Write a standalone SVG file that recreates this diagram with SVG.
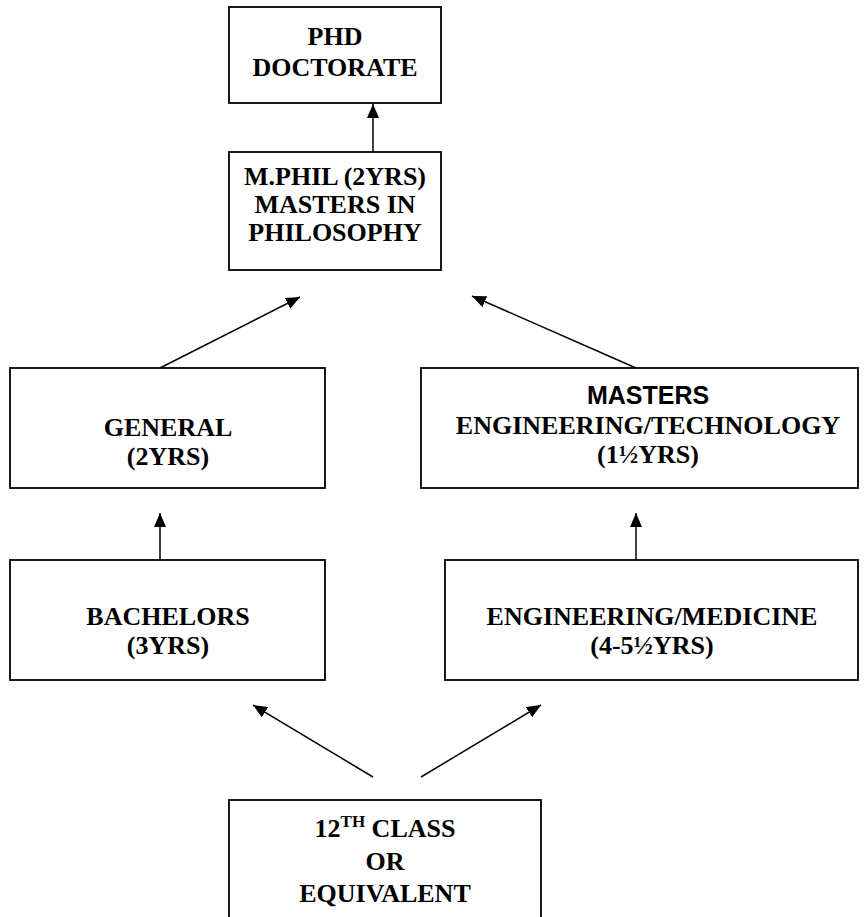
<svg xmlns="http://www.w3.org/2000/svg" width="868" height="917" viewBox="0 0 868 917">
<defs>
<style>
.box{fill:#fff;stroke:#000;stroke-width:1.8}
.t{font-family:"Liberation Serif","Times New Roman",serif;font-weight:bold;font-size:26px;text-anchor:middle;fill:#000}
.s{font-family:"Liberation Sans",Arial,sans-serif;font-weight:bold;font-size:25px;text-anchor:middle;fill:#000}
.c{stroke:#000;stroke-width:1.5;fill:none;marker-end:url(#ah)}
</style>
<marker id="ah" viewBox="0 0 14 12" refX="14" refY="6" markerWidth="14" markerHeight="12" markerUnits="userSpaceOnUse" orient="auto">
<path d="M0,0 L14,6 L0,12 Z" fill="#000"/>
</marker>
</defs>
<rect width="868" height="917" fill="#fff"/>
<g id="connectors">
<line class="c" x1="373" y1="152" x2="373" y2="104"/>
<line class="c" x1="160" y1="368" x2="300" y2="297"/>
<line class="c" x1="636" y1="368" x2="472" y2="296"/>
<line class="c" x1="160" y1="560" x2="160" y2="513"/>
<line class="c" x1="636" y1="560" x2="636" y2="513"/>
<line class="c" x1="373" y1="777" x2="253" y2="705"/>
<line class="c" x1="421" y1="777" x2="541" y2="705"/>
</g>
<g id="phd">
<rect class="box" x="229" y="7" width="212" height="96"/>
<text class="t" x="335" y="45">PHD</text>
<text class="t" x="335" y="76">DOCTORATE</text>
</g>
<g id="mphil">
<rect class="box" x="229" y="152" width="212" height="118"/>
<text class="t" x="335" y="185">M.PHIL (2YRS)</text>
<text class="t" x="335" y="213">MASTERS IN</text>
<text class="t" x="335" y="241">PHILOSOPHY</text>
</g>
<g id="general">
<rect class="box" x="10" y="368" width="315" height="120"/>
<text class="t" x="168" y="436">GENERAL</text>
<text class="t" x="168" y="465">(2YRS)</text>
</g>
<g id="masters-eng">
<rect class="box" x="421" y="368" width="437" height="120"/>
<text class="s" x="648" y="404">MASTERS</text>
<text class="t" x="648" y="434">ENGINEERING/TECHNOLOGY</text>
<text class="t" x="648" y="463">(1½YRS)</text>
</g>
<g id="bachelors">
<rect class="box" x="10" y="560" width="315" height="120"/>
<text class="t" x="168" y="625">BACHELORS</text>
<text class="t" x="168" y="654">(3YRS)</text>
</g>
<g id="eng-med">
<rect class="box" x="445" y="560" width="413" height="120"/>
<text class="t" x="652" y="625">ENGINEERING/MEDICINE</text>
<text class="t" x="652" y="654">(4-5½YRS)</text>
</g>
<g id="class12">
<rect class="box" x="229" y="800" width="312" height="130"/>
<text class="t" x="385" y="837">12<tspan font-size="17" dy="-10">TH</tspan><tspan dy="10"> CLASS</tspan></text>
<text class="t" x="385" y="870">OR</text>
<text class="t" x="385" y="902">EQUIVALENT</text>
</g>
</svg>
